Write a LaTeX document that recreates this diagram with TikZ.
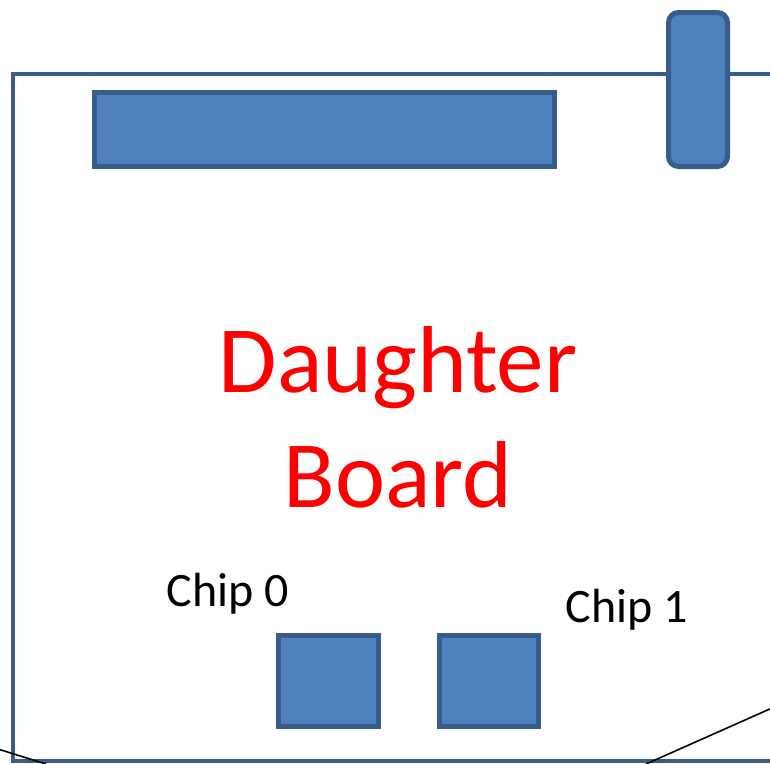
\documentclass[tikz,border=0pt]{standalone}
\usepackage{fontspec}
\setmainfont{Carlito}
\definecolor{partfill}{HTML}{4F81BD}
\definecolor{partline}{HTML}{385D8A}
\tikzset{
  part/.style={draw=partline, fill=partfill, line width=5pt, inner sep=0pt, outer sep=0pt},
  lbl/.style={anchor=base, inner sep=0pt, font=\fontsize{48}{58}\selectfont},
  ttl/.style={anchor=base, inner sep=0pt, text=red, font=\fontsize{95}{115}\selectfont},
  wire/.style={black, line width=1.6pt}
}
\begin{document}
\begin{tikzpicture}[x=1pt,y=-1pt]
\useasboundingbox (0,0) rectangle (770,763);
\begin{scope}
\clip (0,0) rectangle (770,763);
% board
\draw[draw=partline, line width=4.5pt] (780,74) -- (13,74) -- (13,761) -- (780,761);
% connector bar
\node[part, minimum width=460pt, minimum height=74pt] (bar) at (324.5,129.5) {};
% rounded connector
\node[part, rounded corners=10pt, minimum width=59pt, minimum height=154pt] (conn) at (698,89.5) {};
% chips
\node[part, minimum width=100pt, minimum height=91pt] (chip0) at (328.5,681) {};
\node[part, minimum width=99pt, minimum height=91pt] (chip1) at (489,681) {};
% texts
\node[ttl] (title1) at (398,392) {Daughter};
\node[ttl] (title2) at (398,507) {Board};
\node[lbl] (l0) at (228,606) {Chip 0};
\node[lbl] (l1) at (627,622) {Chip 1};
% wires
\coordinate (wa1) at (-2,749);
\coordinate (wa2) at (46,764);
\coordinate (wb1) at (646,764);
\coordinate (wb2) at (772,708);
\draw[wire] (wa1) -- (wa2);
\draw[wire] (wb1) -- (wb2);
\end{scope}
\end{tikzpicture}
\end{document}
